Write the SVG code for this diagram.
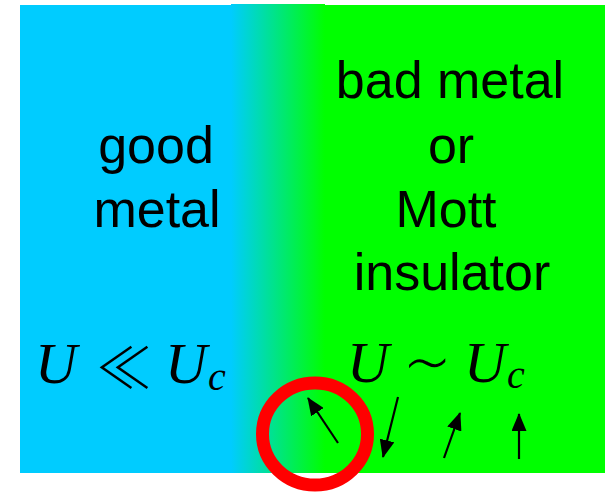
<svg xmlns="http://www.w3.org/2000/svg" width="605" height="492" viewBox="0 0 605 492">
<defs>
<linearGradient id="grad" x1="0" y1="0" x2="1" y2="0">
<stop offset="0" stop-color="#00ccff"/>
<stop offset="1" stop-color="#00ff00"/>
</linearGradient>
<marker id="ah" viewBox="0 0 18 15" refX="17" refY="7.5" markerWidth="18" markerHeight="15" markerUnits="userSpaceOnUse" orient="auto">
<path d="M0,0 L18,7.5 L0,15 z" fill="#000"/>
</marker>
<style>
.lbl{font-family:"Liberation Sans",Arial,sans-serif;font-size:52px;fill:#000;text-anchor:middle}
.math{font-family:"Liberation Serif","DejaVu Serif",serif;font-style:italic;fill:#000}
.op{font-family:"Noto Sans CJK JP","DejaVu Sans",sans-serif;font-weight:300;fill:#000}
.spin{stroke:#000;stroke-width:2.2;fill:none}
</style>
</defs>
<g id="background">
<rect x="20" y="5" width="215" height="468" fill="#00ccff"/>
<rect x="323" y="5" width="282" height="468" fill="#00ff00"/>
<rect x="231" y="4" width="94" height="469" fill="url(#grad)"/>
</g>
<g id="good-metal">
<text class="lbl" x="156" y="163">good</text>
<text class="lbl" x="157" y="227">metal</text>
</g>
<g id="bad-metal">
<text class="lbl" x="450" y="98">bad metal</text>
<text class="lbl" x="451" y="163">or</text>
<text class="lbl" x="446" y="227">Mott</text>
<text class="lbl" x="452" y="290">insulator</text>
</g>
<g id="math-left">
<text class="math" x="35" y="383" font-size="58">U</text>
<text class="op" x="96" y="388" font-size="56">≪</text>
<text class="math" x="165" y="383" font-size="58">U</text>
<text class="math" x="208" y="390" font-size="40">c</text>
</g>
<g id="math-right">
<text class="math" x="347" y="382" font-size="58">U</text>
<text class="op" x="403" y="390" font-size="76">∼</text>
<text class="math" x="464" y="382" font-size="58">U</text>
<text class="math" x="507" y="388" font-size="40">c</text>
</g>
<g id="highlight">
<ellipse cx="315" cy="434" rx="52.5" ry="51" fill="none" stroke="#ff0000" stroke-width="13"/>
</g>
<g id="connectors">
<line class="spin" x1="338" y1="443" x2="308" y2="398" marker-end="url(#ah)"/>
<line class="spin" x1="398" y1="397" x2="383" y2="457" marker-end="url(#ah)"/>
<line class="spin" x1="444" y1="458" x2="460" y2="413" marker-end="url(#ah)"/>
<line class="spin" x1="519" y1="459" x2="519" y2="414" marker-end="url(#ah)"/>
</g>
</svg>
